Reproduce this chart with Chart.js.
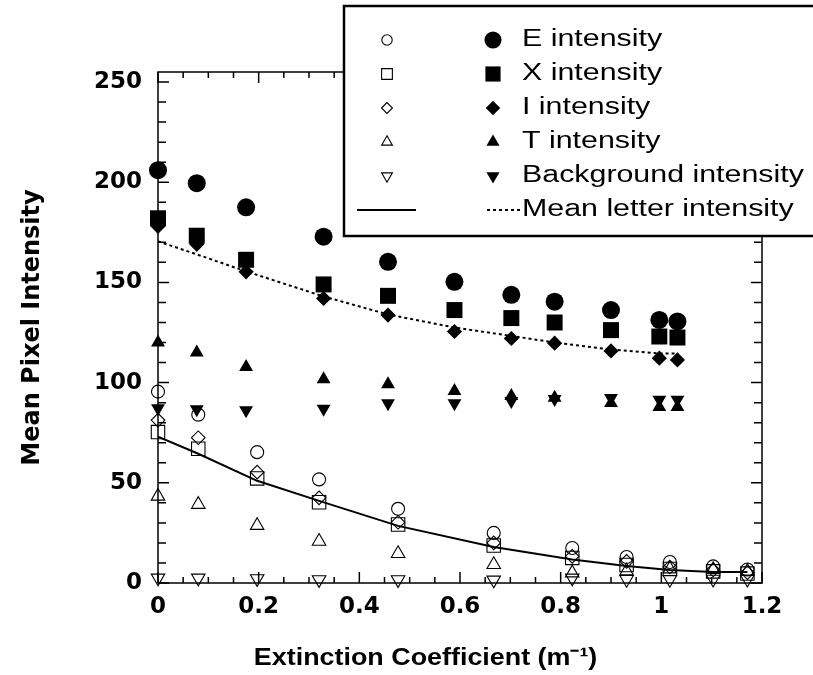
<!DOCTYPE html>
<html>
<head>
<meta charset="utf-8">
<title>Mean Pixel Intensity vs Extinction Coefficient</title>
<script src="https://cdn.jsdelivr.net/npm/chart.js@4.4.1/dist/chart.umd.min.js"></script>
<style>
  html, body { margin: 0; padding: 0; background: #fff; }
  #wrap { width: 813px; height: 675px; position: relative; }
</style>
</head>
<body>
<div id="wrap"><canvas id="intensityChart"></canvas></div>
<script>
// Extinction coefficient (m^-1): open and filled symbols were taken at different points
const openX   = [0, 0.08, 0.197, 0.32, 0.477, 0.667, 0.823, 0.931, 1.017, 1.103, 1.171];
const filledX = [0, 0.077, 0.175, 0.329, 0.457, 0.589, 0.702, 0.788, 0.9, 0.996, 1.032];

// Open symbols
const eOpen    = [95.5, 84, 65.3, 51.7, 37, 25, 17.5, 13, 10.5, 8.3, 6.7];
const xOpen    = [75.3, 67, 52.2, 40.3, 29.2, 18.7, 12.5, 9, 7, 5.8, 4.7];
const iOpen    = [81.3, 72.5, 55.3, 42.5, 30.3, 20, 13.3, 10.8, 8, 6.5, 5.2];
const tOpen    = [43.3, 39.2, 28.7, 20.8, 14.7, 9.2, 5, 6, 7, 6.7, 5.8];
const bgOpen   = [2.5, 2.5, 2.2, 1.7, 1.7, 1.5, 2.5, 1.8, 1.8, 1.9, 1.9];
const meanOpen = [73, 64.5, 51, 41, 28.5, 18, 11.7, 8.5, 6.5, 5.5, 5.5];

// Filled symbols
const eFilled    = [206, 199.5, 187.5, 172.8, 160.3, 150.3, 143.8, 140.4, 136.2, 131.3, 130.5];
const xFilled    = [182, 173.3, 161.3, 149, 143.3, 136.2, 132.2, 130, 126.2, 123, 122.5];
const iFilled    = [178, 169, 155.3, 142, 133.7, 125.5, 122, 119.7, 115.8, 112.2, 111.3];
const tFilled    = [120, 115, 107.8, 101.7, 99.2, 95.8, 93.3, 92.5, 89.8, 87.8, 87.8];
const bgFilled   = [87.2, 86.7, 86.2, 87, 89.7, 89.7, 90.8, 91.8, 92.3, 91.5, 91.5];
const meanFilled = [170.5, 164, 155.5, 143, 134, 127.5, 123.3, 120, 116.5, 114.5, 114.5];

const legendLabels = ['E intensity', 'X intensity', 'I intensity', 'T intensity',
                      'Background intensity', 'Mean letter intensity'];
const xTicks      = [0, 0.2, 0.4, 0.6, 0.8, 1, 1.2];
const xTickLabels = ['0', '0.2', '0.4', '0.6', '0.8', '1', '1.2'];
const yTicks      = [0, 50, 100, 150, 200, 250];
const xTitle = 'Extinction Coefficient (m\u207B\u00B9)';
const yTitle = 'Mean Pixel Intensity';

// marker shape + radius for each letter row (open, filled)
const symbols = [
  { style: 'circle',   rot: 0,   open: 6.5, filled: 9 },
  { style: 'rect',     rot: 0,   open: 9.5, filled: 11.3 },
  { style: 'rectRot',  rot: 0,   open: 6.8, filled: 7.6 },
  { style: 'triangle', rot: 0,   open: 7.8, filled: 8 },
  { style: 'triangle', rot: 180, open: 7.8, filled: 8 }
];

const openSets = [eOpen, xOpen, iOpen, tOpen, bgOpen];
const filledSets = [eFilled, xFilled, iFilled, tFilled, bgFilled];

function toPoints(xs, ys) {
  return xs.map((x, i) => ({ x: x, y: ys[i] }));
}

const datasets = [];
filledSets.forEach((ys, k) => {
  datasets.push({
    label: legendLabels[k] + ' (filled)',
    data: toPoints(filledX, ys),
    pointStyle: symbols[k].style,
    pointRotation: symbols[k].rot,
    pointRadius: symbols[k].filled,
    pointBackgroundColor: '#000',
    pointBorderColor: '#000',
    pointBorderWidth: 0,
    showLine: false,
    clip: false
  });
});
openSets.forEach((ys, k) => {
  datasets.push({
    label: legendLabels[k] + ' (open)',
    data: toPoints(openX, ys),
    pointStyle: symbols[k].style,
    pointRotation: symbols[k].rot,
    pointRadius: symbols[k].open,
    pointBackgroundColor: 'rgba(0,0,0,0)',
    pointBorderColor: '#000',
    pointBorderWidth: 1.1,
    showLine: false,
    clip: false
  });
});
datasets.push({
  label: 'Mean letter intensity (filled)',
  data: toPoints(filledX, meanFilled),
  showLine: true,
  borderColor: '#000',
  borderWidth: 2,
  borderDash: [3, 3],
  pointRadius: 0,
  tension: 0
});
datasets.push({
  label: 'Mean letter intensity (open)',
  data: toPoints(openX, meanOpen),
  showLine: true,
  borderColor: '#000',
  borderWidth: 2,
  pointRadius: 0,
  tension: 0
});

// Box round the plot with inward ticks on all four sides
const frameTicks = {
  id: 'frameTicks',
  beforeDatasetsDraw(chart) {
    const { ctx, chartArea: a, scales: { x, y } } = chart;
    ctx.save();
    ctx.strokeStyle = '#000';
    ctx.lineWidth = 1.5;
    ctx.strokeRect(a.left, a.top, a.right - a.left, a.bottom - a.top);
    ctx.beginPath();
    for (let k = 0; k <= 24; k++) {
      const px = x.getPixelForValue(k * 0.05);
      const len = k % 4 === 0 ? 11 : 6;
      ctx.moveTo(px, a.bottom); ctx.lineTo(px, a.bottom - len);
      ctx.moveTo(px, a.top); ctx.lineTo(px, a.top + len);
    }
    for (let k = 0; k <= 25; k++) {
      const py = y.getPixelForValue(k * 10);
      const len = k % 5 === 0 ? 11 : 8;
      ctx.moveTo(a.left, py); ctx.lineTo(a.left + len, py);
      ctx.moveTo(a.right, py); ctx.lineTo(a.right - len, py);
    }
    ctx.stroke();
    ctx.restore();
  }
};

function drawSymbol(ctx, s, cx, cy, r, filled) {
  ctx.fillStyle = filled ? '#000' : 'rgba(0,0,0,0)';
  ctx.strokeStyle = '#000';
  ctx.lineWidth = filled ? 0 : 1.1;
  Chart.helpers.drawPoint(ctx, { pointStyle: s.style, rotation: s.rot, radius: r, borderWidth: filled ? 0 : 1.1 }, cx, cy);
}

// wide-set text, like the original figure's lettering
function wideText(ctx, text, x, y, stretch) {
  ctx.save();
  ctx.translate(x, y);
  ctx.scale(stretch, 1);
  ctx.fillText(text, 0, 0);
  ctx.restore();
}

// Legend with an open and a filled column per row, plus the x-axis title
const pairLegend = {
  id: 'pairLegend',
  afterDraw(chart) {
    const { ctx, chartArea: a } = chart;
    ctx.save();
    ctx.fillStyle = '#fff';
    ctx.fillRect(344, 6, 520, 230);
    ctx.strokeStyle = '#000';
    ctx.lineWidth = 2.5;
    ctx.strokeRect(344, 6, 520, 230);

    const rows = [40, 74, 108, 142, 176, 210];
    const openCol = 387, filledCol = 493, textX = 522;
    symbols.forEach((s, k) => {
      drawSymbol(ctx, s, openCol, rows[k], s.open * 0.8, false);
      drawSymbol(ctx, s, filledCol, rows[k], s.filled * 0.95, true);
    });

    ctx.strokeStyle = '#000';
    ctx.lineWidth = 2;
    ctx.beginPath();
    ctx.moveTo(357, rows[5]); ctx.lineTo(416, rows[5]);
    ctx.stroke();
    ctx.setLineDash([3, 3]);
    ctx.beginPath();
    ctx.moveTo(487, rows[5]); ctx.lineTo(521, rows[5]);
    ctx.stroke();
    ctx.setLineDash([]);

    ctx.fillStyle = '#000';
    ctx.font = '23px "Liberation Sans", Arial, sans-serif';
    ctx.textBaseline = 'middle';
    ctx.textAlign = 'left';
    legendLabels.forEach((t, k) => wideText(ctx, t, textX, rows[k], 1.32));

    // x-axis title sits a little left of the plot centre in the original
    ctx.font = 'bold 24px "Liberation Sans", Arial, sans-serif';
    ctx.textAlign = 'center';
    wideText(ctx, xTitle, a.left + (a.right - a.left) * 0.443, 658, 1.12);
    ctx.restore();
  }
};

const tickFont = { family: '"DejaVu Sans", sans-serif', size: 23, weight: 'bold' };

const ctx = document.getElementById('intensityChart').getContext('2d');
const intensityChart = new Chart(ctx, {
  type: 'scatter',
  data: { datasets: datasets },
  options: {
    responsive: true,
    maintainAspectRatio: false,
    animation: false,
    events: [],
    layout: { padding: { top: 72, right: 51, left: 0, bottom: 0 } },
    scales: {
      x: {
        type: 'linear',
        min: 0,
        max: 1.2,
        afterBuildTicks: s => { s.ticks = xTicks.map(v => ({ value: v })); },
        afterFit: s => { s.height = 92; },
        grid: { display: false, drawTicks: false },
        border: { display: false },
        ticks: {
          color: '#000',
          padding: 10,
          autoSkip: false,
          maxRotation: 0,
          font: tickFont,
          callback: (v, i) => xTickLabels[i]
        }
      },
      y: {
        type: 'linear',
        min: 0,
        max: 255,
        afterBuildTicks: s => { s.ticks = yTicks.map(v => ({ value: v })); },
        afterFit: s => { s.width = 158; },
        grid: { display: false, drawTicks: false },
        border: { display: false },
        ticks: {
          color: '#000',
          padding: 16,
          font: tickFont,
          callback: v => String(v)
        },
        title: {
          display: true,
          text: yTitle,
          color: '#000',
          font: { family: '"DejaVu Sans", sans-serif', size: 24, weight: 'bold' },
          padding: { top: 18, bottom: 0 }
        }
      }
    },
    plugins: {
      legend: { display: false },
      tooltip: { enabled: false }
    }
  },
  plugins: [frameTicks, pairLegend]
});
</script>
</body>
</html>
